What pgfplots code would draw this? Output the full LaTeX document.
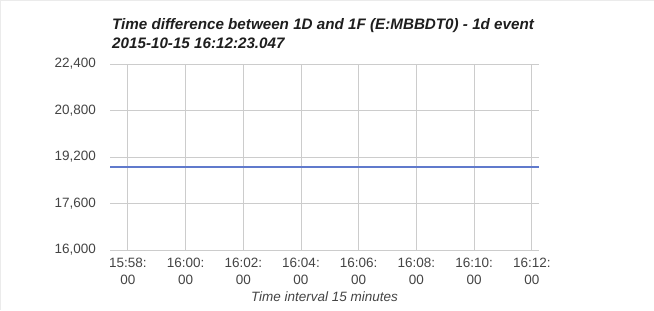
\documentclass[border=0pt]{standalone}
\usepackage{pgfplots}
\pgfplotsset{compat=1.18}
\usepackage{fontspec}
\setmainfont{Liberation Sans}
\definecolor{gridc}{RGB}{204,204,204}
\definecolor{seriesblue}{RGB}{96,122,204}
\definecolor{tickc}{RGB}{68,68,68}
\definecolor{titlec}{RGB}{30,30,30}
\begin{document}
\begin{tikzpicture}[x=1bp,y=1bp]
\path[use as bounding box] (0,0) rectangle (654,310);
\draw[black!8,line width=1.2bp] (0.6,0) -- (0.6,309.4) -- (654,309.4);
\begin{axis}[
  at={(110bp,60bp)}, anchor=south west,
  scale only axis, width=429bp, height=186bp,
  xmin=-0.62, xmax=14.25,
  ymin=16000, ymax=22400,
  ytick={16000,17600,19200,20800,22400},
  xtick={0,2,4,6,8,10,12,14},
  xticklabels={{15:58:\\00},{16:00:\\00},{16:02:\\00},{16:04:\\00},{16:06:\\00},{16:08:\\00},{16:10:\\00},{16:12:\\00}},
  xticklabel style={align=center, font=\fontsize{13.5bp}{17bp}\selectfont, text=tickc, anchor=north, inner ysep=8bp},
  yticklabel style={font=\fontsize{13.5bp}{16bp}\selectfont, text=tickc, anchor=east, inner xsep=14bp},
  /pgf/number format/assume math mode=true,
  /pgf/number format/1000 sep={,},
  scaled y ticks=false,
  grid=major, major grid style={gridc, line width=0.8bp},
  axis line style={draw=none},
  tick style={draw=none},
  xlabel={\itshape Time interval 15 minutes},
  xlabel style={font=\fontsize{13.5bp}{16bp}\selectfont, text=tickc, at={(axis description cs:0.5,0)}, anchor=north, inner sep=0pt, yshift=-42bp},
  clip=false,
]
\addplot[draw=seriesblue, line width=1.5bp, mark=none] coordinates {(-0.62,18850) (14.25,18850)};
\end{axis}
\node[anchor=base west, inner sep=0pt, text=titlec, font=\fontsize{15.2bp}{19bp}\selectfont\bfseries\itshape] at (112bp,280.5bp) {Time difference between 1D and 1F (E:MBBDT0) - 1d event};
\node[anchor=base west, inner sep=0pt, text=titlec, font=\fontsize{15.2bp}{19bp}\selectfont\bfseries\itshape] at (112bp,261.5bp) {2015-10-15 16:12:23.047};
\end{tikzpicture}
\end{document}
